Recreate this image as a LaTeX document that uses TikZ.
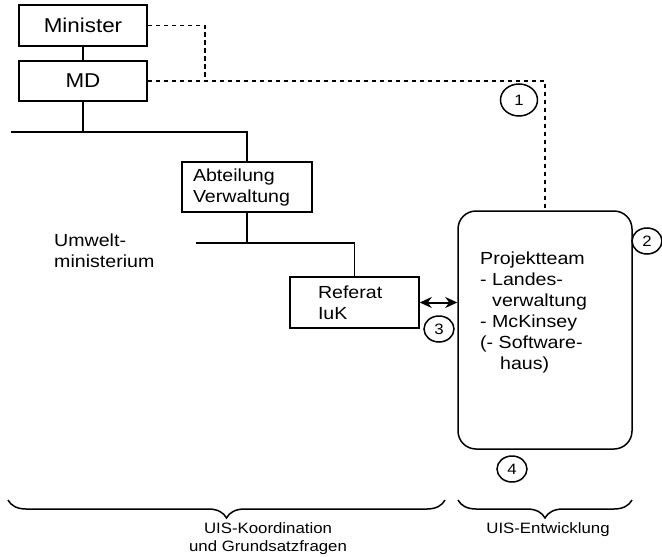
\documentclass[tikz,border=0pt]{standalone}
\usepackage{fontspec}
\setmainfont{Liberation Sans}[FakeStretch=1.12]
\usetikzlibrary{shapes.geometric,decorations.pathreplacing,arrows.meta}

\begin{document}
\begin{tikzpicture}[x=1pt,y=-1pt,
  every node/.style={font=\fontsize{17.5}{21}\selectfont},
  unit/.style={draw,line width=1.5pt,rectangle,inner sep=0pt},
  headunit/.style={unit,font=\fontsize{20}{22}\selectfont},
  orgline/.style={line width=1.8pt},
  link/.style={line width=1.4pt,dash pattern=on 4.5pt off 3.5pt},
  marker/.style={draw,ellipse,line width=1.5pt,inner sep=0pt,
    minimum width=30pt,minimum height=26pt,font=\fontsize{15}{15}\selectfont},
  span/.style={line width=1.5pt,decorate,
    decoration={brace,mirror,amplitude=18pt,aspect=0.5}},
  caption/.style={align=center,font=\fontsize{15}{18}\selectfont}]

\useasboundingbox (0,0) rectangle (662,557);

% ministry hierarchy
\node[headunit,minimum width=128pt,minimum height=41pt] (minister) at (83,25.5) {Minister};
\node[headunit,minimum width=128pt,minimum height=40pt] (md) at (83,81) {MD};
\node[unit,minimum width=130pt,minimum height=50pt,align=left,
      text width=108pt,inner xsep=11pt] (abt) at (247,187) {Abteilung\\Verwaltung};
\node[unit,minimum width=129pt,minimum height=51pt,align=left,
      text width=73pt,inner xsep=28pt] (ref) at (354.5,302.5) {Referat\\IuK};
\node[anchor=west,align=left,inner sep=0pt] (umwelt) at (54,251) {Umwelt-\\ministerium};

% project team
\node[draw,line width=1.5pt,rounded corners=18pt,minimum width=174pt,
      minimum height=238pt] (proj) at (545,330) {};
\node[anchor=north west,align=left,inner sep=0pt] (team) at (480,252)
  {Projektteam\\- Landes-\\\hspace*{12pt}verwaltung\\- McKinsey\\(- Software-\\\hspace*{20pt}haus)};

% numbered markers
\node[marker,minimum width=37pt,minimum height=32pt] (m1) at (519,100) {1};
\node[marker] (m2) at (647,241) {2};
\node[marker] (m3) at (439,329) {3};
\node[marker] (m4) at (512,469) {4};

% reporting lines
\coordinate (bar1) at (11,132);
\coordinate (bar2) at (196,243);
\draw[orgline] (minister.south) -- (md.north);
\draw[orgline] (md.south) -- (md.south |- bar1);
\draw[orgline] (bar1) -- (abt.north |- bar1) -- (abt.north);
\draw[orgline] (abt.south) -- (abt.south |- bar2);
\draw[orgline] (bar2) -- (ref.north |- bar2) -- (ref.north);

% steering links to the project team
\coordinate (mcorner) at (205,25.5);
\draw[link] (minister.east) -- (mcorner) -- (mcorner |- md.east);
\draw[link] (md.east) -- (proj.north |- md.east) -- (proj.north);

% exchange between Referat and project team
\draw[line width=2pt,{Stealth[length=12pt,width=11pt]}-{Stealth[length=12pt,width=11pt]}]
  (ref.east) -- (ref.east -| proj.west);

% task areas
\coordinate (b1l) at (8,500);
\coordinate (b1r) at (445,500);
\coordinate (b2l) at (458,500);
\coordinate (b2r) at (632,500);
\draw[span] (b1l) -- (b1r);
\draw[span] (b2l) -- (b2r);
\node[caption] (koord) at (268,539) {UIS-Koordination\\und Grundsatzfragen};
\node[caption] (entw) at (548,530) {UIS-Entwicklung};

\end{tikzpicture}
\end{document}
